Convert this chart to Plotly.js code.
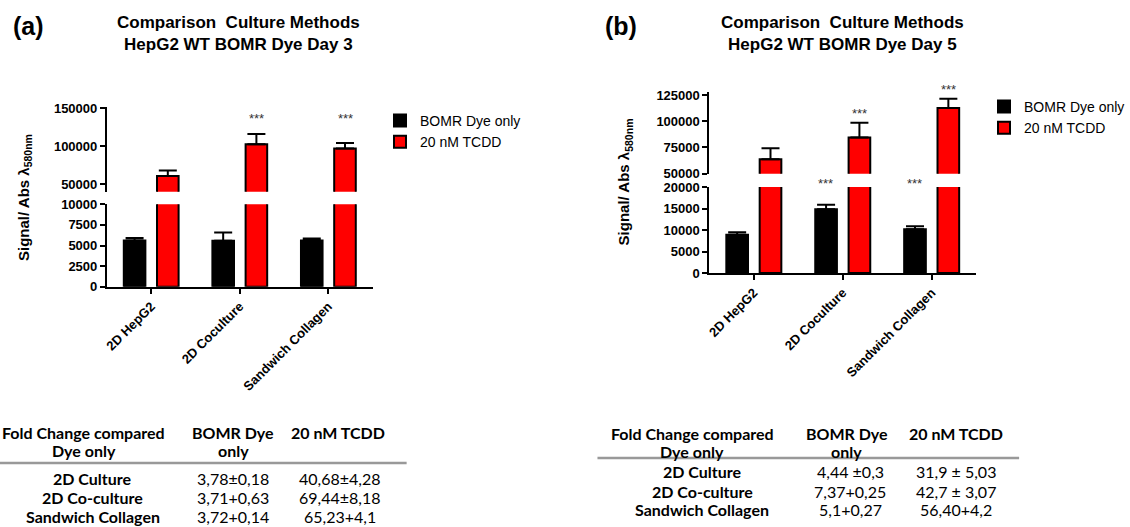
<!DOCTYPE html>
<html>
<head>
<meta charset="utf-8">
<script src="https://cdn.plot.ly/plotly-3.0.1.min.js"></script>
<style>html,body{margin:0;padding:0;background:#fff;}#chart{width:1130px;height:527px;}</style>
</head>
<body>
<div id="chart"></div>
<script>
// ---------- data ----------
const categories = ['2D HepG2', '2D Coculture', 'Sandwich Collagen'];
const seriesNames = ['BOMR Dye only', '20 nM TCDD'];

const day3Dye = [5600, 5570, 5600];
const day3DyeErr = [300, 1000, 250];
const day3Tcdd = [60900, 102600, 97000];
const day3TcddErr = [7000, 13500, 7300];
const day3DyeSig = ['', '', ''];
const day3TcddSig = ['', '***', '***'];

const day5Dye = [8900, 14800, 10200];
const day5DyeErr = [600, 1050, 650];
const day5Tcdd = [63700, 84500, 112700];
const day5TcddErr = [10500, 14000, 8800];
const day5DyeSig = ['', '***', '***'];
const day5TcddSig = ['', '***', '***'];

const ticksDay3Low = [0, 2500, 5000, 7500, 10000];
const ticksDay3High = [50000, 100000, 150000];
const ticksDay5Low = [0, 5000, 10000, 15000, 20000];
const ticksDay5High = [50000, 75000, 100000, 125000];

const tableHeader = [['Fold Change compared', 'Dye only'], ['BOMR Dye', 'only'], ['20 nM TCDD']];
const tableRows = ['2D Culture', '2D Co-culture', 'Sandwich Collagen'];
const foldDay3Dye = ['3,78±0,18', '3,71+0,63', '3,72+0,14'];
const foldDay3Tcdd = ['40,68±4,28', '69,44±8,18', '65,23+4,1'];
const foldDay5Dye = ['4,44 ±0,3', '7,37+0,25', '5,1+0,27'];
const foldDay5Tcdd = ['31,9 ± 5,03', '42,7 ± 3,07', '56,40+4,2'];

// ---------- layout helpers ----------
const W = 1130, H = 527;
const fx = p => p / W;
const fy = p => 1 - p / H;
const FONT = 'Arial, "Liberation Sans", sans-serif';
const TFONT = 'Lato, "Open Sans", sans-serif';
const COLORS = ['#000000', '#ff0000'];

function bar(name, y, err, xa, ya, color, legend, showlegend) {
  return {
    type: 'bar', name: name, x: categories, y: y, xaxis: xa, yaxis: ya,
    marker: {color: color, line: {color: '#000', width: 2}},
    error_y: {type: 'data', array: err, arrayminus: err.map(() => 0), symmetric: false,
              color: '#000', thickness: 2, width: 9},
    legend: legend, showlegend: showlegend, cliponaxis: true, hoverinfo: 'x+y'
  };
}

const traces = [];
// panel (a)
traces.push(bar(seriesNames[0], day3Dye, day3DyeErr, 'x', 'y', COLORS[0], 'legend', true));
traces.push(bar(seriesNames[1], day3Tcdd, day3TcddErr, 'x', 'y', COLORS[1], 'legend', true));
traces.push(bar(seriesNames[0], day3Dye, day3DyeErr, 'x', 'y2', COLORS[0], 'legend', false));
traces.push(bar(seriesNames[1], day3Tcdd, day3TcddErr, 'x', 'y2', COLORS[1], 'legend', false));
// panel (b)
traces.push(bar(seriesNames[0], day5Dye, day5DyeErr, 'x2', 'y3', COLORS[0], 'legend2', true));
traces.push(bar(seriesNames[1], day5Tcdd, day5TcddErr, 'x2', 'y3', COLORS[1], 'legend2', true));
traces.push(bar(seriesNames[0], day5Dye, day5DyeErr, 'x2', 'y4', COLORS[0], 'legend2', false));
traces.push(bar(seriesNames[1], day5Tcdd, day5TcddErr, 'x2', 'y4', COLORS[1], 'legend2', false));

function yax(domain, range, tickvals, anchor) {
  return {
    domain: domain, range: range, anchor: anchor, tickvals: tickvals, tickformat: 'd',
    showline: true, linewidth: 2, linecolor: '#000', ticks: 'outside', ticklen: 5, tickwidth: 2,
    tickcolor: '#000', showgrid: false, zeroline: false, fixedrange: true,
    tickfont: {family: FONT, size: 13, color: '#000', weight: 'bold'}
  };
}
function xax(domain, anchor) {
  return {
    domain: domain, range: [-0.5, 2.5], anchor: anchor, type: 'category',
    showline: true, linewidth: 2, linecolor: '#000', ticks: 'outside', ticklen: 5, tickwidth: 2,
    tickcolor: '#000', showgrid: false, zeroline: false, tickangle: -45, fixedrange: true,
    tickfont: {family: FONT, size: 13, color: '#000', weight: 'bold'}
  };
}

const annotations = [];
function addText(text, x, y, size, opts, family, weight) {
  annotations.push(Object.assign({
    text: text, x: x, y: y, xref: 'paper', yref: 'paper', showarrow: false,
    xanchor: 'center', yanchor: 'middle',
    font: {family: family || FONT, size: size, color: '#000', weight: weight || 'bold'}
  }, opts || {}));
}
addText('(a)', fx(29), fy(26), 25);
addText('(b)', fx(622), fy(26), 25);
addText('Comparison\u00a0 Culture Methods<br>HepG2 WT BOMR Dye Day 3', fx(239), fy(33), 17);
addText('Comparison\u00a0 Culture Methods<br>HepG2 WT BOMR Dye Day 5', fx(843), fy(33), 17);
addText('Signal/ Abs λ<sub>580nm</sub>', fx(25), fy(197), 15, {textangle: -90});
addText('Signal/ Abs λ<sub>580nm</sub>', fx(625), fy(182), 15, {textangle: -90});

function stars(sig, xa, ya, yvals, shift, anchor, yshift) {
  sig.forEach((s, i) => {
    if (!s) return;
    annotations.push({
      text: s, x: categories[i], y: yvals[i], xref: xa, yref: ya, showarrow: false,
      xshift: shift, yshift: yshift, xanchor: 'center', yanchor: anchor,
      font: {family: FONT, size: 13, color: '#333'}
    });
  });
}
const starLevelA = 136000;
stars(day3TcddSig, 'x', 'y2', categories.map(() => starLevelA), 17, 'middle', 0);
stars(day5TcddSig, 'x2', 'y4', day5Tcdd.map((v, i) => v + day5TcddErr[i]), 17, 'bottom', 0);
stars(day5DyeSig, 'x2', 'y3', categories.map(() => 20000), -17, 'bottom', -6);

// ---------- tables (text cells) ----------
function drawTable(geom, col2, col3) {
  const cols = [tableRows, col2, col3];
  tableHeader.forEach((lines, c) => {
    lines.forEach((t, l) => addText(t, fx(geom.headX[c]), fy(geom.headY[l]), 16, {}, TFONT, 'bold'));
  });
  cols.forEach((col, c) => {
    col.forEach((t, r) => addText(t, fx(geom.cellX[c]), fy(geom.rowY[r]), 16, {}, TFONT,
                                   c === 0 ? 'bold' : 'normal'));
  });
}
drawTable({headX: [84, 233.5, 338], headY: [432, 450], cellX: [93, 233.5, 340], rowY: [478, 497, 516]},
          foldDay3Dye, foldDay3Tcdd);
drawTable({headX: [693, 847.5, 956.5], headY: [433.5, 451], cellX: [703, 851, 956.5], rowY: [471.5, 491, 509.5]},
          foldDay5Dye, foldDay5Tcdd);

const shapes = [
  {type: 'line', xref: 'paper', yref: 'paper', x0: 0, x1: fx(407), y0: fy(463), y1: fy(463),
   line: {color: '#999', width: 2.5}},
  {type: 'line', xref: 'paper', yref: 'paper', x0: fx(598), x1: fx(1020), y0: fy(458), y1: fy(458),
   line: {color: '#999', width: 2.5}}
];

const layout = {
  width: W, height: H, margin: {l: 0, r: 0, t: 0, b: 0},
  paper_bgcolor: '#fff', plot_bgcolor: 'rgba(0,0,0,0)',
  barmode: 'group', bargap: 0.25, bargroupgap: 0.35,
  xaxis: xax([fx(107), fx(373)], 'y'),
  yaxis: yax([fy(286.7), fy(204.3)], [0, 10000], ticksDay3Low, 'x'),
  yaxis2: yax([fy(191.8), fy(106.6)], [40000, 152000], ticksDay3High, 'x'),
  xaxis2: xax([fx(710), fx(977)], 'y3'),
  yaxis3: yax([fy(273), fy(187)], [0, 20000], ticksDay5Low, 'x2'),
  yaxis4: yax([fy(173.7), fy(91.9)], [50000, 128000], ticksDay5High, 'x2'),
  legend: {x: fx(380), y: fy(105), xanchor: 'left', yanchor: 'top', bgcolor: 'rgba(0,0,0,0)',
           font: {family: FONT, size: 14, color: '#000'}},
  legend2: {x: fx(985), y: fy(91), xanchor: 'left', yanchor: 'top', bgcolor: 'rgba(0,0,0,0)',
           font: {family: FONT, size: 14, color: '#000'}},
  annotations: annotations,
  shapes: shapes,
  showlegend: true
};

Plotly.newPlot('chart', traces, layout, {displayModeBar: false, staticPlot: true});
</script>
</body>
</html>
